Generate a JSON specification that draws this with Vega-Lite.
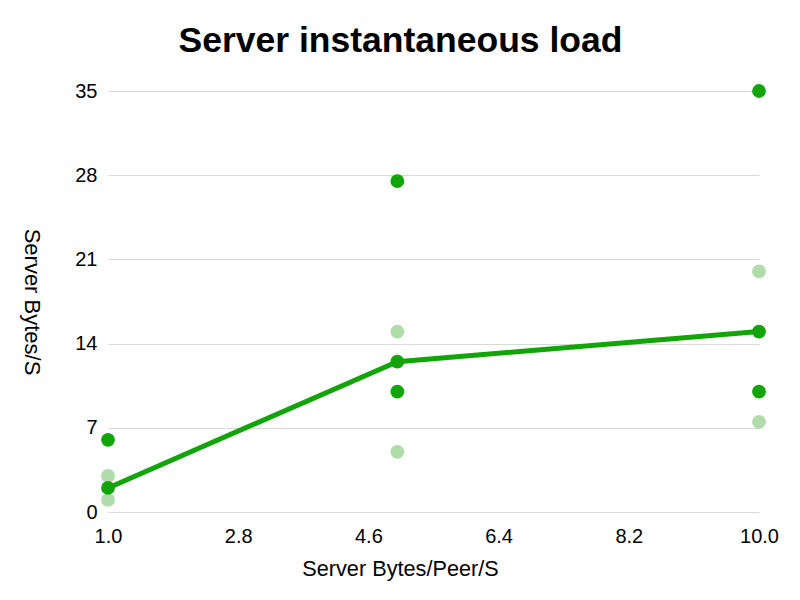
{
  "$schema": "https://vega.github.io/schema/vega-lite/v6.json",
  "width": 651,
  "height": 421,
  "autosize": "none",
  "padding": {"left": 108, "top": 91, "right": 41, "bottom": 88},
  "background": "white",
  "title": {"text": "Server instantaneous load", "fontSize": 35.5, "fontWeight": "bold", "font": "Liberation Sans", "color": "#000000", "anchor": "middle", "dx": -33, "offset": 22},
  "config": {"view": {"stroke": null}, "font": "Liberation Sans"},
  "datasets": {
    "points": [
      {"x": 1, "y": 1, "kind": "light"},
      {"x": 1, "y": 3, "kind": "light"},
      {"x": 5, "y": 5, "kind": "light"},
      {"x": 5, "y": 15, "kind": "light"},
      {"x": 10, "y": 7.5, "kind": "light"},
      {"x": 10, "y": 20, "kind": "light"},
      {"x": 1, "y": 6, "kind": "dark"},
      {"x": 1, "y": 2, "kind": "dark"},
      {"x": 5, "y": 27.5, "kind": "dark"},
      {"x": 5, "y": 12.5, "kind": "dark"},
      {"x": 5, "y": 10, "kind": "dark"},
      {"x": 10, "y": 35, "kind": "dark"},
      {"x": 10, "y": 15, "kind": "dark"},
      {"x": 10, "y": 10, "kind": "dark"}
    ],
    "line": [
      {"x": 1, "y": 2},
      {"x": 5, "y": 12.5},
      {"x": 10, "y": 15}
    ]
  },
  "encoding": {
    "x": {"field": "x", "type": "quantitative", "scale": {"domain": [1, 10], "nice": false, "zero": false},
      "axis": {"title": "Server Bytes/Peer/S", "values": [1, 2.8, 4.6, 6.4, 8.2, 10], "format": ".1f", "grid": false, "domain": false, "ticks": false, "labelFontSize": 20, "labelColor": "#000000", "labelPadding": 14, "titleFontSize": 21.7, "titleFontWeight": "normal", "titleColor": "#000000", "titlePadding": 12, "titleX": 292, "labelFlush": false}},
    "y": {"field": "y", "type": "quantitative", "scale": {"domain": [0, 35], "nice": false},
      "axis": {"title": "Server Bytes/S", "values": [0, 7, 14, 21, 28, 35], "grid": true, "gridColor": "#d9d9d9", "domain": false, "ticks": false, "labelFontSize": 20, "labelColor": "#000000", "labelPadding": 11, "titleFontSize": 22, "titleFontWeight": "normal", "titleColor": "#000000", "titleAngle": 90, "titlePadding": 55}}
  },
  "layer": [
    {
      "data": {"name": "points"},
      "transform": [{"filter": "datum.kind === 'light'"}],
      "mark": {"type": "circle", "size": 190, "opacity": 1, "color": "#b0dcaa"}
    },
    {
      "data": {"name": "line"},
      "mark": {"type": "line", "color": "#12a40a", "strokeWidth": 5},
      "encoding": {}
    },
    {
      "data": {"name": "points"},
      "transform": [{"filter": "datum.kind === 'dark'"}],
      "mark": {"type": "circle", "size": 190, "opacity": 1, "color": "#12a40a"}
    }
  ]
}
